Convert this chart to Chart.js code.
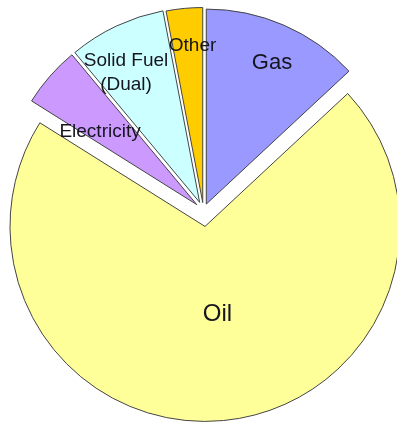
<!DOCTYPE html>
<html>
<head>
<meta charset="utf-8">
<script src="https://cdn.jsdelivr.net/npm/chart.js@4/dist/chart.umd.min.js"></script>
<style>
  html, body { margin: 0; padding: 0; background: #fff; }
  #wrap { width: 397px; height: 423px; }
</style>
</head>
<body>
<div id="wrap"><canvas id="pie" width="397" height="423"></canvas></div>
<script>
  // ---------- Data (clockwise from 12 o'clock) ----------
  const LABELS = ["Gas", "Oil", "Electricity", "Solid Fuel (Dual)", "Other"];
  const SHARES = [13, 70.5, 5, 8, 3];
  const COLORS = ["#9999ff", "#ffff99", "#cc99ff", "#ccffff", "#ffcc00"];

  // how far each slice is pulled out (px), along its middle angle
  const EXPLODE = [7, 16, 9, 9, 8];

  // label text lines, font size, polar spot (deg from top, fraction of radius)
  const TEXT = [
    { lines: ["Gas"], size: 22, a: 24.9, r: 0.834 },
    { lines: ["Oil"], size: 24, a: 172.3, r: 0.535 },
    { lines: ["Electricity"], size: 19, a: 307.2, r: 0.666 },
    { lines: ["Solid Fuel", "(Dual)"], size: 19, a: 330.7, r: 0.812 },
    { lines: ["Other"], size: 19, a: 356.2, r: 0.848 },
  ];

  // Chart.js's own `offset` also grows the radius, so shift arcs by hand
  const explodeSlices = {
    id: "explodeSlices",
    beforeDatasetDraw(chart, args) {
      const ctx = chart.ctx;
      args.meta.data.forEach((el, i) => {
        const mid = (el.startAngle + el.endAngle) / 2;
        const d = EXPLODE[i] || 0;
        ctx.save();
        ctx.translate(Math.cos(mid) * d, Math.sin(mid) * d);
        el.draw(ctx, chart.chartArea);
        ctx.restore();
      });
      return false;
    },
  };

  const sliceLabels = {
    id: "sliceLabels",
    afterDatasetsDraw(chart) {
      const arc = chart.getDatasetMeta(0).data[0];
      if (!arc) return;
      const { x, y, outerRadius } = arc.getProps(["x", "y", "outerRadius"], true);
      const ctx = chart.ctx;
      ctx.save();
      ctx.fillStyle = "#15151f";
      ctx.textAlign = "center";
      ctx.textBaseline = "middle";
      TEXT.forEach((t) => {
        const rad = (t.a * Math.PI) / 180;
        const px = x + Math.sin(rad) * t.r * outerRadius;
        const py = y - Math.cos(rad) * t.r * outerRadius;
        ctx.font = t.size + 'px "Liberation Sans", Arial, sans-serif';
        const lh = t.size * 1.25;
        const top = py - ((t.lines.length - 1) * lh) / 2;
        t.lines.forEach((ln, i) => ctx.fillText(ln, px, top + i * lh));
      });
      ctx.restore();
    },
  };

  new Chart(document.getElementById("pie"), {
    type: "pie",
    data: {
      labels: LABELS,
      datasets: [
        {
          data: SHARES,
          backgroundColor: COLORS,
          borderColor: "#444444",
          borderWidth: 1,
          offset: 0,
          hoverOffset: 0,
        },
      ],
    },
    options: {
      responsive: false,
      animation: false,
      devicePixelRatio: 1,
      radius: 195,
      layout: { padding: { left: 10, right: 0, top: 0, bottom: 2 } },
      plugins: {
        legend: { display: false },
        tooltip: { enabled: false },
      },
    },
    plugins: [explodeSlices, sliceLabels],
  });
</script>
</body>
</html>
